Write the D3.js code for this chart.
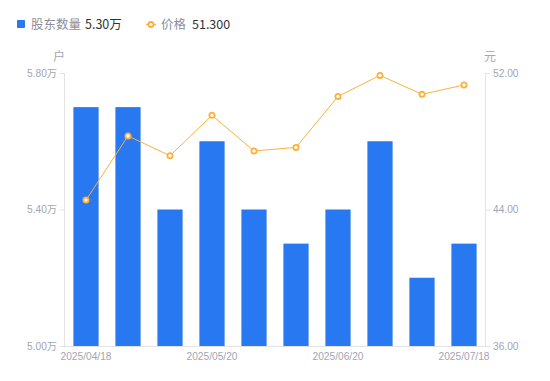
<!DOCTYPE html>
<html><head><meta charset="utf-8">
<script src="https://cdn.jsdelivr.net/npm/d3@7/dist/d3.min.js"></script>
<style>body{margin:0;background:#fff;font-family:"Noto Sans CJK SC","Noto Sans",sans-serif;}</style>
</head><body><svg id="c" width="550" height="381"></svg>
<script>
const dates = ["2025/04/18","2025/04/30","2025/05/09","2025/05/20","2025/05/30","2025/06/10","2025/06/20","2025/06/30","2025/07/10","2025/07/18"];
const holders = [5.70,5.70,5.40,5.60,5.40,5.30,5.40,5.60,5.20,5.30];
const prices = [44.55,48.31,47.15,49.52,47.43,47.64,50.63,51.86,50.75,51.30];
const xTickLabels = ["2025/04/18","2025/05/20","2025/06/20","2025/07/18"];
const leftTicks = [5.00,5.40,5.80];
const rightTicks = [36,44,52];

const svg = d3.select("#c");
const L=65, R=485, T=73, B=346;
const x = d3.scaleBand().domain(dates).range([L,R]).paddingInner(0.4).paddingOuter(0.2);
const yL = d3.scaleLinear().domain([5.0,5.8]).range([B,T]);
const yR = d3.scaleLinear().domain([36,52]).range([B,T]);
const axisCol="#e3e3e3", txtCol="#a3a5b3";

// bars
svg.append("g").selectAll("rect").data(holders).join("rect")
  .attr("x",(d,i)=>x(dates[i])).attr("width",x.bandwidth())
  .attr("y",d=>yL(d)).attr("height",d=>B-yL(d)).attr("fill","#2778f1");

// axes
const la = svg.append("g").attr("transform",`translate(${L},0)`)
  .call(d3.axisLeft(yL).tickValues(leftTicks).tickSize(5).tickPadding(3).tickFormat(d=>d3.format(".2f")(d)+"万"));
const ra = svg.append("g").attr("transform",`translate(${R},0)`)
  .call(d3.axisRight(yR).tickValues(rightTicks).tickSize(5).tickPadding(3).tickFormat(d3.format(".2f")));
const ba = svg.append("g").attr("transform",`translate(0,${B})`)
  .call(d3.axisBottom(x).tickValues(xTickLabels).tickSize(0).tickPadding(7));
[la,ra,ba].forEach(g=>{
  g.selectAll("path,line").attr("stroke",axisCol);
  g.selectAll("text").attr("fill",txtCol).attr("font-size","10.2px").attr("font-family","'Liberation Sans','Noto Sans CJK SC',sans-serif");
});
la.select(".domain").attr("d",`M-0.5,${T}V${B}`);
ra.select(".domain").attr("d",`M0.5,${T}V${B}`);
ba.select(".domain").attr("d",`M${L},0.5H${R}`);

// units
svg.append("text").attr("x",59).attr("y",61).attr("text-anchor","middle").attr("fill",txtCol).attr("font-size","12px").text("户");
svg.append("text").attr("x",490).attr("y",61).attr("text-anchor","middle").attr("fill",txtCol).attr("font-size","12px").text("元");

// line
const cx = (d,i)=>x(dates[i])+x.bandwidth()/2;
svg.append("path").datum(prices).attr("fill","none").attr("stroke","#fbb13c").attr("stroke-width",1)
  .attr("d",d3.line().x(cx).y(d=>yR(d)));
svg.append("g").selectAll("circle").data(prices).join("circle")
  .attr("cx",cx).attr("cy",d=>yR(d)).attr("r",2.6)
  .attr("fill","#fff").attr("stroke","#fbb13c").attr("stroke-width",1.8);

// legend
const lg = svg.append("g").attr("font-size","12.5px");
lg.append("rect").attr("x",17).attr("y",20).attr("width",8).attr("height",8).attr("rx",1).attr("fill","#2778f1");
lg.append("text").attr("x",31).attr("y",29).attr("fill","#8c8e99").text("股东数量");
lg.append("text").attr("x",85).attr("y",29).attr("fill","#333").text("5.30万");
lg.append("line").attr("x1",146).attr("x2",156).attr("y1",24.5).attr("y2",24.5).attr("stroke","#fbb13c").attr("stroke-width",1.5);
lg.append("circle").attr("cx",151).attr("cy",24.5).attr("r",2.5).attr("fill","#fff").attr("stroke","#fbb13c").attr("stroke-width",1.8);
lg.append("text").attr("x",161).attr("y",29).attr("fill","#8c8e99").text("价格");
lg.append("text").attr("x",192).attr("y",29).attr("fill","#333").text("51.300");
</script></body></html>
